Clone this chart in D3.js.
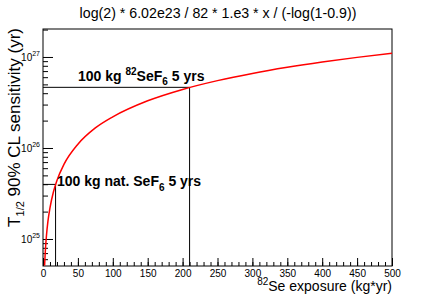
<!DOCTYPE html>
<html lang="en">
<head>
    <meta charset="UTF-8">
    <title>82Se sensitivity</title>
    <script src="https://d3js.org/d3.v7.min.js"></script>
    <style>
        body { margin: 0; background: #fff; }
        svg { display: block; font-family: "Liberation Sans", Arial, sans-serif; }
        .axis path { display: none; }
        .axis line { stroke: #000; }
    </style>
</head>
<body>
    <div id="chart"></div>
    <script>
        // Curve: exposure (kg*yr) -> T1/2 sensitivity (yr)
        const exposure = [2.3, 3, 4, 5, 7, 10, 15, 20, 30, 50, 75, 100, 150, 200, 250, 300, 350, 400, 450, 500];
        const sensitivity = [5.1e24, 6.6e24, 8.8e24, 1.1e25, 1.55e25, 2.2e25, 3.3e25, 4.4e25, 6.6e25, 1.1e26,
                             1.66e26, 2.2e26, 3.3e26, 4.4e26, 5.5e26, 6.6e26, 7.7e26, 8.8e26, 9.9e26, 1.1e27];

        // The two marked scenarios
        const markExposure = [18, 210];
        const markSensitivity = [3.98e25, 4.64e26];

        const xMajor = d3.range(0, 501, 50);
        const xMinor = d3.range(0, 501, 10);
        const yMajor = [1e25, 1e26, 1e27];
        const yMinor = [6e24, 7e24, 8e24, 9e24, 2e25, 3e25, 4e25, 5e25, 6e25, 7e25, 8e25, 9e25,
                        2e26, 3e26, 4e26, 5e26, 6e26, 7e26, 8e26, 9e26, 2e27];

        const W = 436, H = 297;
        const frame = {left: 43, right: 392, top: 29, bottom: 266};

        const svg = d3.select("#chart").append("svg")
            .attr("width", W)
            .attr("height", H);

        const x = d3.scaleLinear().domain([0, 500]).range([frame.left, frame.right]);
        const y = d3.scaleLog().domain([5.05e24, 2.03e27]).range([frame.bottom, frame.top]);

        // title
        svg.append("text")
            .attr("x", 218).attr("y", 18)
            .attr("text-anchor", "middle")
            .attr("font-size", 14.2)
            .text("log(2) * 6.02e23 / 82 * 1.e3 * x / (-log(1-0.9))");

        // x axis ticks (pointing into the frame)
        svg.append("g").attr("class", "axis")
            .attr("transform", `translate(0,${frame.bottom})`)
            .call(d3.axisBottom(x).tickValues(xMinor).tickSize(-4).tickFormat(""));
        const gx = svg.append("g").attr("class", "axis")
            .attr("transform", `translate(0,${frame.bottom})`)
            .call(d3.axisBottom(x).tickValues(xMajor).tickSize(-8).tickFormat(d3.format("d")));
        gx.selectAll("text")
            .attr("y", 11).attr("dy", 0)
            .attr("font-size", 10)
            .attr("font-family", "Liberation Sans, Arial, sans-serif");

        // y axis ticks
        svg.append("g").attr("class", "axis")
            .attr("transform", `translate(${frame.left},0)`)
            .call(d3.axisLeft(y).tickValues(yMinor).tickSize(-5).tickFormat(""));
        const gy = svg.append("g").attr("class", "axis")
            .attr("transform", `translate(${frame.left},0)`)
            .call(d3.axisLeft(y).tickValues(yMajor).tickSize(-10).tickFormat(""));
        gy.selectAll(".tick").each(function(d) {
            const t = d3.select(this).append("text")
                .attr("x", -3).attr("y", 4)
                .attr("text-anchor", "end")
                .attr("fill", "#000")
                .attr("font-size", 10)
                .attr("font-family", "Liberation Sans, Arial, sans-serif");
            t.append("tspan").text("10");
            t.append("tspan").attr("dy", -5).attr("font-size", 7)
                .text(Math.round(Math.log10(d)));
        });

        // frame
        svg.append("rect")
            .attr("x", frame.left).attr("y", frame.top)
            .attr("width", frame.right - frame.left)
            .attr("height", frame.bottom - frame.top)
            .attr("fill", "none")
            .attr("stroke", "#000")
            .attr("stroke-width", 1);

        // scenario lines
        markExposure.forEach((e, i) => {
            const s = markSensitivity[i];
            svg.append("path")
                .attr("d", `M${x(0)},${y(s)}H${x(e)}V${frame.bottom}`)
                .attr("fill", "none")
                .attr("stroke", "#000")
                .attr("stroke-width", 1);
        });

        // sensitivity curve
        const pts = exposure.map((e, i) => [x(e), y(sensitivity[i])]);
        svg.append("path")
            .datum(pts)
            .attr("d", d3.line().curve(d3.curveMonotoneX))
            .attr("fill", "none")
            .attr("stroke", "#ff0000")
            .attr("stroke-width", 1.5);

        // annotations
        const lab1 = svg.append("text")
            .attr("x", 78).attr("y", 81)
            .attr("font-size", 14).attr("font-weight", "bold");
        lab1.append("tspan").text("100 kg ");
        lab1.append("tspan").attr("dy", -6).attr("font-size", 10).text("82");
        lab1.append("tspan").attr("dy", 6).text("SeF");
        lab1.append("tspan").attr("dy", 4).attr("font-size", 10).text("6");
        lab1.append("tspan").attr("dy", -4).text(" 5 yrs");

        const lab2 = svg.append("text")
            .attr("x", 57).attr("y", 186)
            .attr("font-size", 14).attr("font-weight", "bold");
        lab2.append("tspan").text("100 kg nat. SeF");
        lab2.append("tspan").attr("dy", 5).attr("font-size", 10).text("6");
        lab2.append("tspan").attr("dy", -5).text(" 5 yrs");

        // axis titles
        const xt = svg.append("text")
            .attr("x", frame.right).attr("y", 291)
            .attr("text-anchor", "end")
            .attr("font-size", 14);
        xt.append("tspan").attr("dy", -6).attr("font-size", 10).text("82");
        xt.append("tspan").attr("dy", 6).text("Se exposure (kg*yr)");

        const yt = svg.append("text")
            .attr("transform", `translate(20,${frame.top - 1}) rotate(-90)`)
            .attr("text-anchor", "end")
            .attr("font-size", 17);
        yt.append("tspan").text("T");
        yt.append("tspan").attr("dy", 4).attr("font-size", 11).text("1/2");
        yt.append("tspan").attr("dy", -4).text(" 90% CL sensitivity (yr)");
    </script>
</body>
</html>
